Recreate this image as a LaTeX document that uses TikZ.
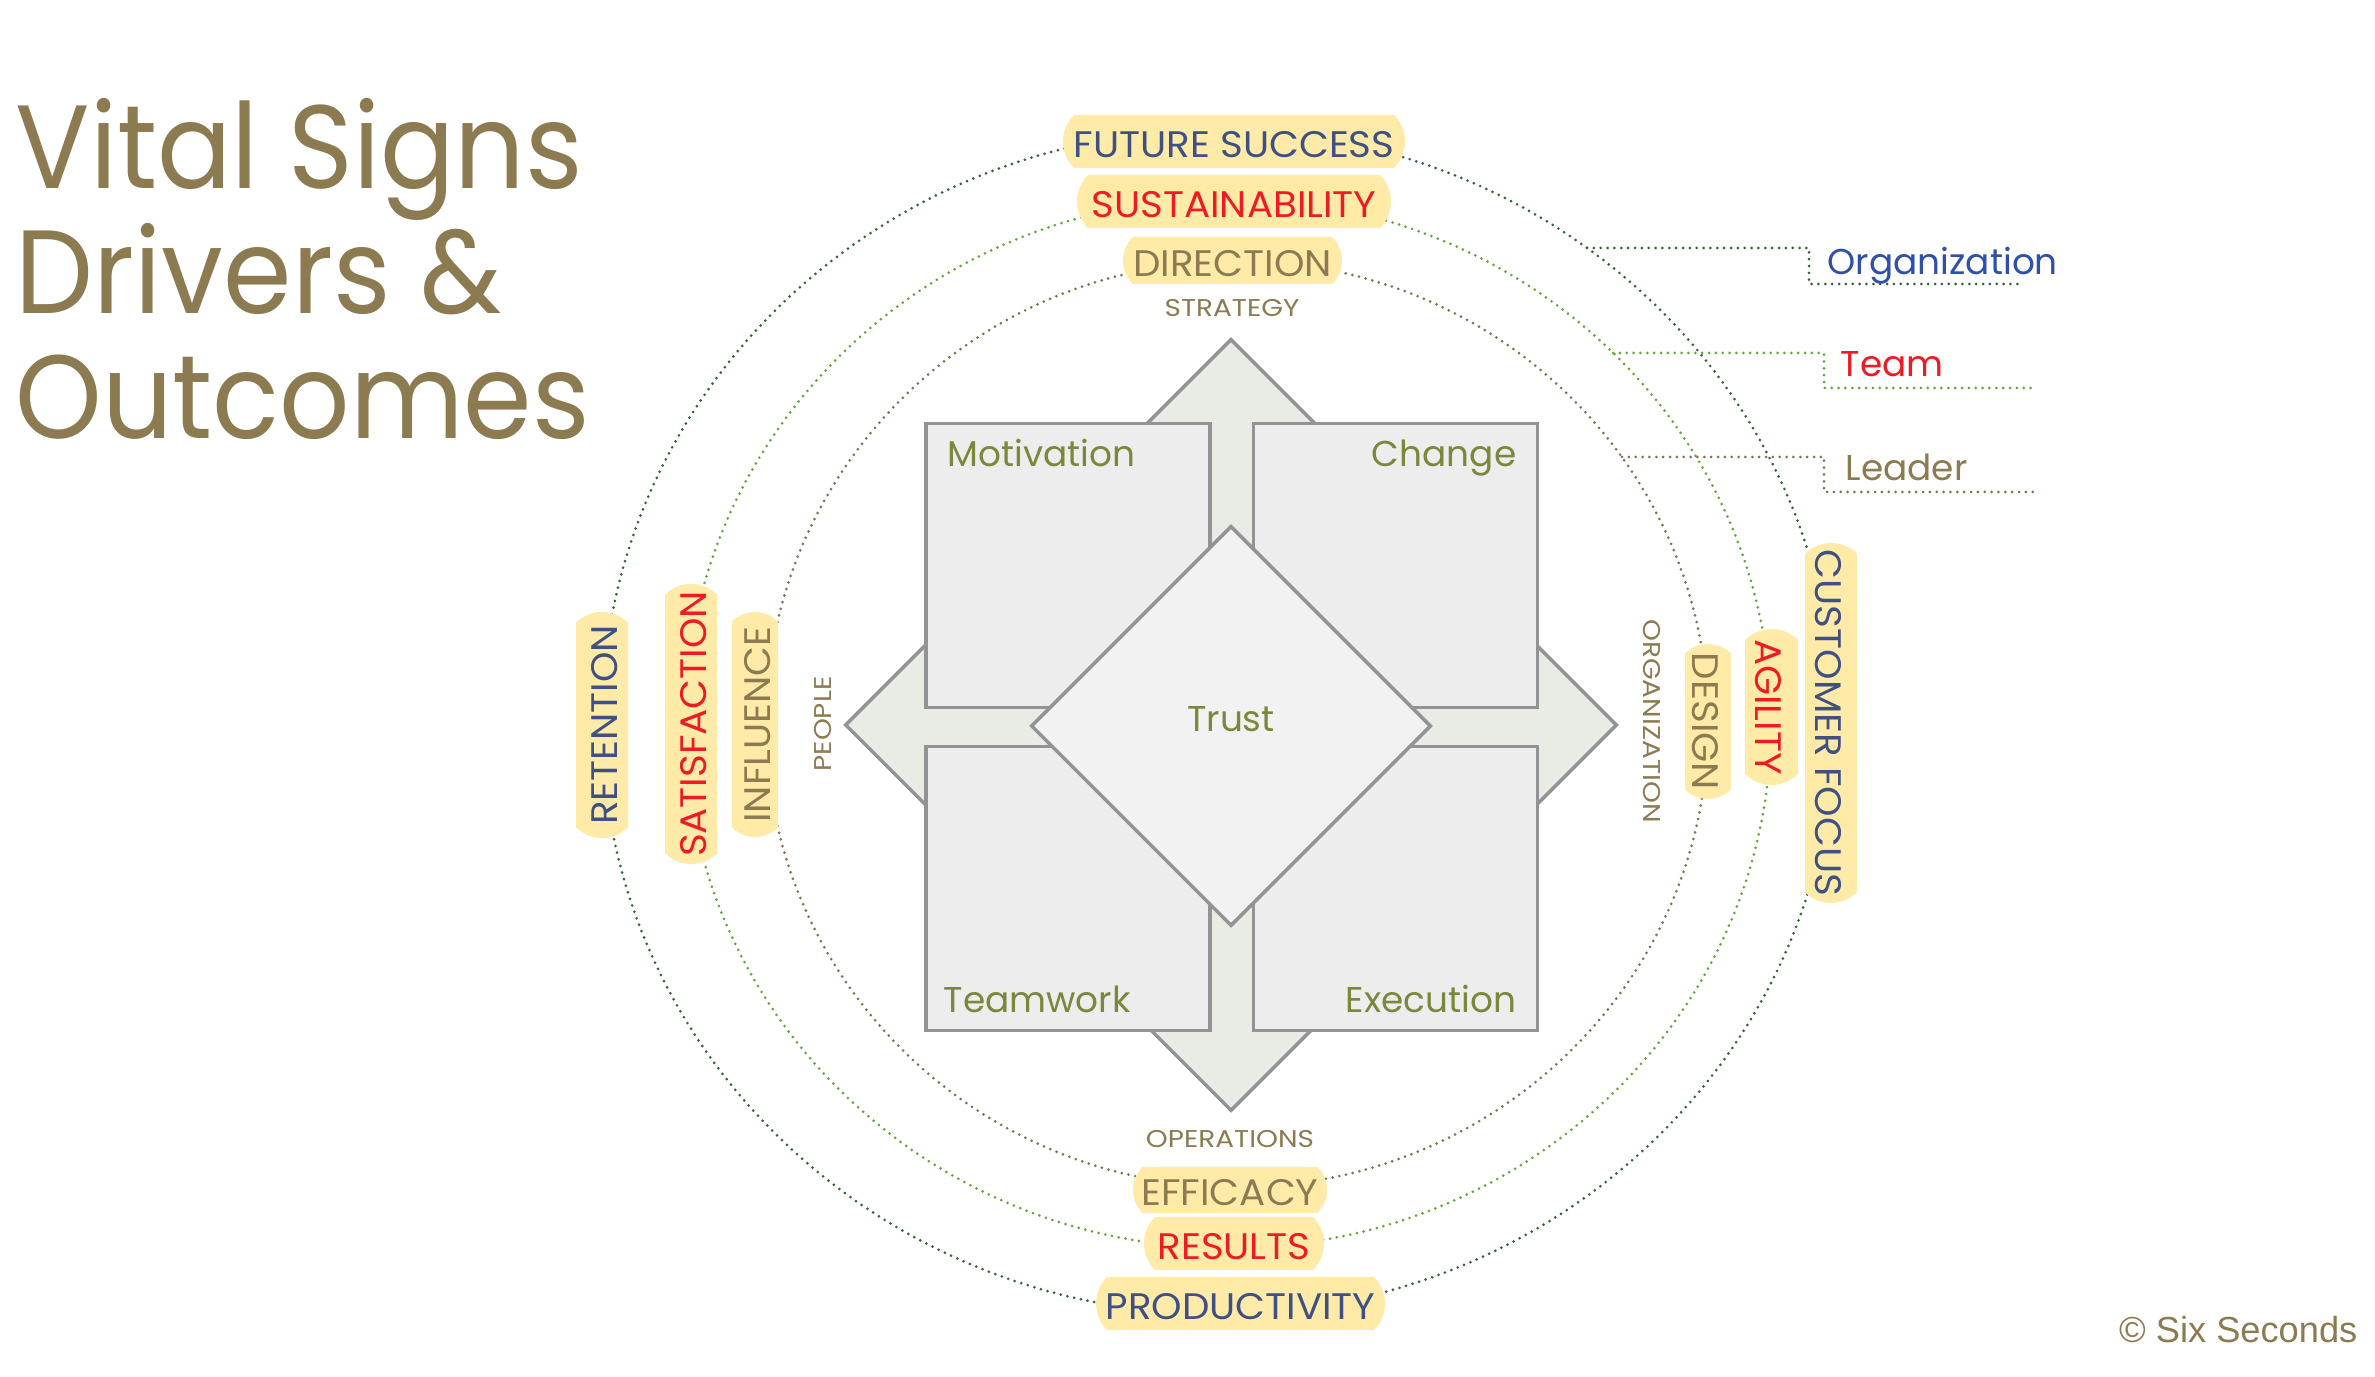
\documentclass[tikz,border=0pt]{standalone}
\usepackage{fontspec}
\setmainfont{Poppins}
\newfontfamily\arialf{Liberation Sans}
\usetikzlibrary{shapes.misc,shapes.geometric}
\newlength\px \setlength\px{0.01cm}
\newcommand\tg[1]{\scalebox{1.05}[1]{#1}}
\newcommand\sm[1]{\scalebox{1.15}[1]{#1}}
\newcommand\ttl[1]{\scalebox{0.93}[1]{#1}}
\definecolor{tagfill}{RGB}{255,234,168}
\definecolor{tblue}{RGB}{62,81,130}
\definecolor{tred}{RGB}{237,28,36}
\definecolor{tbrown}{RGB}{140,123,80}
\definecolor{orgblue}{RGB}{47,80,170}
\definecolor{olive}{RGB}{121,136,58}
\definecolor{dgreen}{RGB}{50,100,55}
\definecolor{lgreen}{RGB}{100,165,60}
\definecolor{dbrown}{RGB}{130,113,80}
\definecolor{quadfill}{RGB}{237,237,237}
\definecolor{quadline}{RGB}{147,147,150}
\definecolor{trustfill}{RGB}{242,242,242}
\definecolor{crossfill}{RGB}{233,236,228}
\begin{document}
\begin{tikzpicture}[x=0.01cm,y=-0.01cm,
  dots/.style={line width=0.85pt, line cap=round, dash pattern=on 0pt off 1.95pt},
  outerl/.style={dots, draw=dgreen},
  midl/.style={dots, draw=lgreen},
  innerl/.style={dots, draw=dbrown},
  tag/.style={rounded rectangle, rounded rectangle arc length=90, fill=tagfill,
    inner sep=0pt, font=\fontsize{10.5pt}{12pt}\selectfont, text height=9.0pt, text depth=0pt},
  small/.style={inner sep=0pt, font=\fontsize{6.9pt}{8pt}\selectfont, text=tbrown,
    text height=4.85pt, text depth=0pt},
  quad/.style={rectangle, draw=quadline, line width=1pt, fill=quadfill,
    minimum width=284\px, minimum height=284\px, inner sep=0pt},
  qtext/.style={inner sep=0pt, font=\fontsize{10.2pt}{12pt}\selectfont, text=olive},
  title/.style={inner sep=0pt, anchor=base west, font=\fontsize{33.7pt}{40pt}\selectfont, text=tbrown},
  side/.style={inner sep=0pt, anchor=base west, font=\fontsize{10.2pt}{12pt}\selectfont}
]
\fill[white] (0,0) rectangle (2375,1377);
\useasboundingbox (0,0) rectangle (2375,1377);

% title
\node[title] (t1) at (15,189) {\ttl{Vital Signs}};
\node[title] (t2) at (15,314) {\ttl{Drivers \&}};
\node[title] (t3) at (15,439) {\ttl{Outcomes}};

% rings
\draw[outerl] (1218,722) ellipse [x radius=616\px, y radius=592\px];
\draw[midl] (1228,723) ellipse [x radius=543\px, y radius=525\px];
\draw[innerl] (1237,724) ellipse [x radius=471\px, y radius=463\px];

% leader lines
\coordinate (orgS) at (1587,248);
\coordinate (orgA) at (1809,248);
\coordinate (orgB) at (1809,284);
\coordinate (orgE) at (2018,284);
\coordinate (teamS) at (1613,353);
\coordinate (teamA) at (1824,353);
\coordinate (teamB) at (1824,388);
\coordinate (teamE) at (2033,388);
\coordinate (leadS) at (1622,457);
\coordinate (leadA) at (1824,457);
\coordinate (leadB) at (1824,492);
\coordinate (leadE) at (2033,492);
\draw[outerl] (orgS) -- (orgA) -- (orgB) -- (orgE);
\draw[midl] (teamS) -- (teamA) -- (teamB) -- (teamE);
\draw[innerl] (leadS) -- (leadA) -- (leadB) -- (leadE);
\node[side, text=orgblue] (org) at (1827,275) {Organization};
\node[side, text=tred] (team) at (1840,377) {Team};
\node[side, text=tbrown] (lead) at (1845,481) {Leader};

% central figure
\node[diamond, aspect=1, draw=quadline, line width=1pt, fill=crossfill, inner sep=0pt,
  minimum width=772\px, minimum height=772\px] (cross) at (1231,725) {};
\node[quad] (mot) at (1068,565.5) {};
\node[quad] (chg) at (1395.5,565.5) {};
\node[quad] (tw) at (1068,888.5) {};
\node[quad] (exe) at (1395.5,888.5) {};
\node[diamond, aspect=1, draw=quadline, line width=1pt, fill=trustfill, inner sep=0pt,
  minimum width=400\px, minimum height=400\px] (trust) at (1231,726) {};
\node[qtext, anchor=base west] (motl) at (947,467) {Motivation};
\node[qtext, anchor=base east] (chgl) at (1517,467) {Change};
\node[qtext, anchor=base west] (twl) at (943,1013) {Teamwork};
\node[qtext, anchor=base east] (exel) at (1517,1013) {Execution};
\node[qtext, anchor=base] (trustl) at (1231,732) {Trust};

% axis words
\node[small] (strat) at (1232,307.5) {\sm{STRATEGY}};
\node[small] (oper) at (1230,1138.5) {\sm{OPERATIONS}};
\node[small, rotate=90] (people) at (822.5,724) {\sm{PEOPLE}};
\node[small, rotate=-90] (orgz) at (1652.5,721) {\sm{ORGANIZATION}};

% tags
\node[tag, text=tblue, minimum width=342\px, minimum height=53\px] (fs) at (1234,141.5) {\tg{FUTURE SUCCESS}};
\node[tag, text=tred, minimum width=314\px, minimum height=53\px] (sus) at (1234,201.5) {\tg{SUSTAINABILITY}};
\node[tag, text=tbrown, minimum width=219\px, minimum height=47\px] (dir) at (1232.5,260.5) {\tg{DIRECTION}};
\node[tag, text=tbrown, minimum width=194\px, minimum height=46\px] (eff) at (1230,1190) {\tg{EFFICACY}};
\node[tag, text=tred, minimum width=180\px, minimum height=53\px] (res) at (1234,1243.5) {\tg{RESULTS}};
\node[tag, text=tblue, minimum width=289\px, minimum height=53\px] (prod) at (1240.5,1303.5) {\tg{PRODUCTIVITY}};
\node[tag, text=tblue, rotate=90, minimum width=226\px, minimum height=52\px] (ret) at (602,725) {\tg{RETENTION}};
\node[tag, text=tred, rotate=90, minimum width=280\px, minimum height=52\px] (sat) at (691,724) {\tg{SATISFACTION}};
\node[tag, text=tbrown, rotate=90, minimum width=225\px, minimum height=46\px] (inf) at (755,724.5) {\tg{INFLUENCE}};
\node[tag, text=tbrown, rotate=-90, minimum width=155\px, minimum height=46\px] (des) at (1708,721.5) {\tg{DESIGN}};
\node[tag, text=tred, rotate=-90, minimum width=156\px, minimum height=53\px] (agi) at (1771.5,707) {\tg{AGILITY}};
\node[tag, text=tblue, rotate=-90, minimum width=360\px, minimum height=52\px] (cf) at (1831,723) {\tg{CUSTOMER FOCUS}};

% copyright
\node[inner sep=0pt, anchor=base east, font=\arialf\fontsize{10.3pt}{12pt}\selectfont, text=tbrown] (copy) at (2358,1343) {© Six Seconds};
\end{tikzpicture}
\end{document}
